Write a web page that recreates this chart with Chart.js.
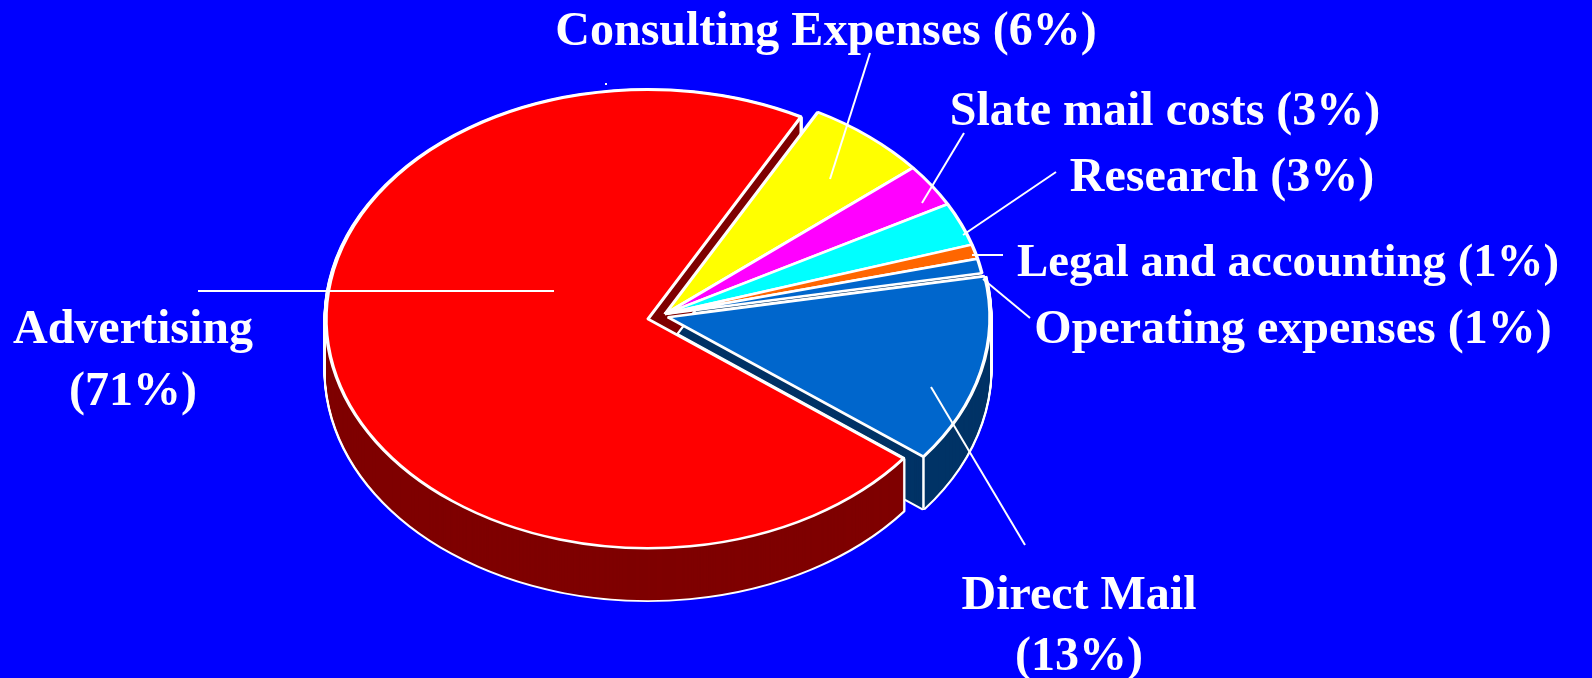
<!DOCTYPE html>
<html>
<head>
<meta charset="utf-8">
<style>html,body{margin:0;padding:0;background:#0000ff;overflow:hidden}canvas{display:block}</style>
<script src="https://cdn.jsdelivr.net/npm/chart.js@4"></script>
</head>
<body>
<canvas id="c" width="1592" height="678"></canvas>
<script>
const categories = ["Advertising","Consulting Expenses","Slate mail costs","Research","Legal and accounting","Operating expenses","Direct Mail"];
const shares = [71,6,3,3,1,1,13];
const topColors = ["#ff0000","#ffff00","#ff00ff","#00ffff","#ff6600","#0066cc","#0066cc"];
const wallColors = ["#7f0000","#7f7f00","#7f007f","#007f7f","#7f3300","#003366","#003366"];

const SQUASH = 0.712, DEPTH = 52;
const EXPLODE = {0:[-17,7], 6:[3,4.5]};
const FONT_FAMILY = '"Liberation Serif", "Times New Roman", serif';
const callouts = [
  {text:["Consulting Expenses (6%)"], size:48, x:826, y:[33], line:[870,53,830,179]},
  {text:["Slate mail costs (3%)"], size:48, x:1165, y:[113], line:[964,133,922,203]},
  {text:["Research (3%)"], size:48, x:1222, y:[179], line:[1056,172,963,235]},
  {text:["Legal and accounting (1%)"], size:46.8, x:1288, y:[264], line:[972,255,1003,255]},
  {text:["Operating expenses (1%)"], size:48, x:1293, y:[331], line:[983,279,1030,318]},
  {text:["Advertising","(71%)"], size:48, x:133, y:[331,393], line:[198,291,554,291]},
  {text:["Direct Mail","(13%)"], size:48, x:1079, y:[597,658], line:[931,387,1025,545]}
];

function squash(ctx, chart){
  const a = chart.chartArea, cx=(a.left+a.right)/2, cy=(a.top+a.bottom)/2;
  ctx.translate(cx, cy);
  ctx.scale(1, SQUASH);
  ctx.translate(-cx, -cy);
}
function drawWith(chart, arc, over, dy){
  const ctx = chart.ctx, saved = arc.options;
  arc.options = Object.assign({}, saved, over);
  ctx.save();
  ctx.translate(0, dy);
  squash(ctx, chart);
  arc.draw(ctx);
  ctx.restore();
  arc.options = saved;
}
function rim(chart, arc, angle){
  const a = chart.chartArea, cy=(a.top+a.bottom)/2;
  const x = arc.x+Math.cos(angle)*arc.outerRadius;
  const y = cy+(arc.y-cy+Math.sin(angle)*arc.outerRadius)*SQUASH;
  return {x,y};
}

const pie3d = {
  id:'pie3d',
  afterDatasetsUpdate(chart){
    const arcs = chart.getDatasetMeta(0).data;
    Object.keys(EXPLODE).forEach(i=>{
      arcs[i].x += EXPLODE[i][0];
      arcs[i].y += EXPLODE[i][1];
    });
  },
  beforeDatasetsDraw(chart){
    const ctx = chart.ctx, arcs = chart.getDatasetMeta(0).data;
    // back-to-front: thin slices, then Direct Mail, then Advertising
    const order = [1,2,3,4,5,6,0];
    order.forEach(i=>{
      const arc = arcs[i], outlined = (i===0||i===6);
      if(outlined){
        for(let d=DEPTH;d>=0;d--) drawWith(chart,arc,{borderColor:'#ffffff',borderWidth:5,backgroundColor:'#ffffff'},d);
      }
      for(let d=DEPTH;d>=0;d--) drawWith(chart,arc,{borderWidth:0,backgroundColor:wallColors[i]},d);
      if(outlined){
        const p = rim(chart,arc,arc.endAngle);
        ctx.save();
        ctx.strokeStyle='#ffffff';ctx.lineWidth=2.5;
        ctx.beginPath();ctx.moveTo(p.x,p.y);ctx.lineTo(p.x,p.y+DEPTH);ctx.stroke();
        ctx.restore();
      }
    });
    ctx.save();
    squash(ctx,chart);
  },
  afterDatasetsDraw(chart){
    const ctx = chart.ctx;
    ctx.restore();
    ctx.save();
    ctx.strokeStyle='#ffffff';ctx.lineWidth=2;
    callouts.forEach(c=>{
      ctx.beginPath();ctx.moveTo(c.line[0],c.line[1]);ctx.lineTo(c.line[2],c.line[3]);ctx.stroke();
    });
    ctx.fillStyle='#ffffff';ctx.fillRect(605,83,2,2);
    ctx.textAlign='center';ctx.textBaseline='middle';
    callouts.forEach(c=>{
      ctx.font='bold '+c.size+'px '+FONT_FAMILY;
      c.text.forEach((t,k)=>ctx.fillText(t,c.x,c.y[k]));
    });
    ctx.restore();
  }
};

new Chart(document.getElementById('c'),{
  type:'pie',
  data:{labels:categories,datasets:[{
    data:shares,
    backgroundColor:topColors,
    borderColor:'#ffffff',
    borderWidth:3.5,
    rotation:127.5,
    radius:322,
    clip:false
  }]},
  options:{
    responsive:false,
    animation:false,
    layout:{padding:{left:0,right:262,top:0,bottom:50}},
    plugins:{legend:{display:false},tooltip:{enabled:false}}
  },
  plugins:[pie3d,{id:'bg',beforeDraw(chart){const c=chart.ctx;c.save();c.fillStyle='#0000ff';c.fillRect(0,0,chart.width,chart.height);c.restore();}}]
});
</script>
</body>
</html>
